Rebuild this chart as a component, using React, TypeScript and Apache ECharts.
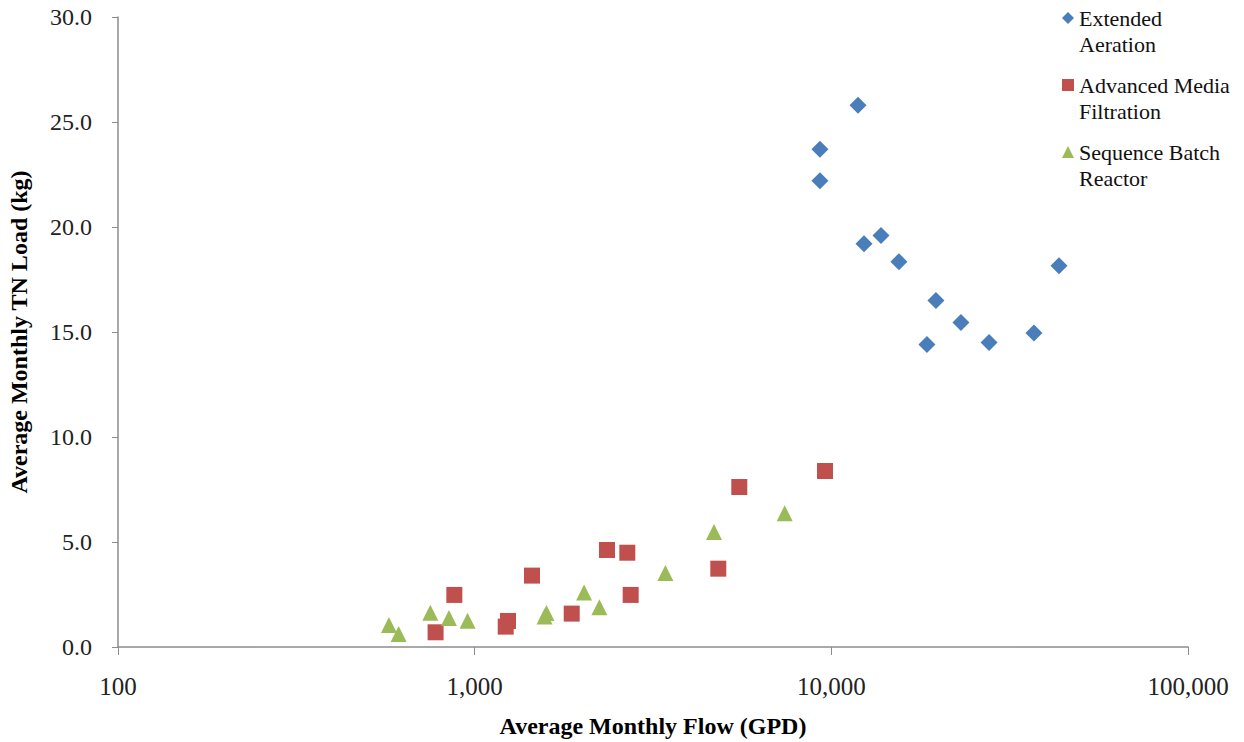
import React, { useEffect, useRef } from "react";
import * as echarts from "echarts";

const extendedAeration: [number, number][] = [
  [11880, 25.8], [9290, 23.7], [9290, 22.2], [12350, 19.2], [13780, 19.6],
  [15470, 18.35], [19650, 16.5], [23090, 15.45], [18540, 14.4], [27680, 14.5],
  [36990, 14.95], [43480, 18.15],
];
const advancedMediaFiltration: [number, number][] = [
  [777, 0.7], [877, 2.48], [1222, 0.97], [1240, 1.24], [1448, 3.4],
  [1871, 1.59], [2350, 4.62], [2679, 4.49], [2738, 2.48], [4820, 3.73],
  [5520, 7.62], [9600, 8.38],
];
const sequenceBatchReactor: [number, number][] = [
  [575, 1.05], [612, 0.62], [751, 1.63], [847, 1.38], [955, 1.25],
  [1570, 1.45], [1590, 1.62], [2026, 2.59], [2237, 1.89], [3425, 3.52],
  [4688, 5.48], [7400, 6.37],
];

const seriesNames = ["Extended Aeration", "Advanced Media Filtration", "Sequence Batch Reactor"];
const legendFirstLines = ["Extended", "Advanced Media", "Sequence Batch"];
const legendSecondLines = ["Aeration", "Filtration", "Reactor"];
const colors = ["#4A7EBB", "#C0504D", "#9BBB59"];

const FONT = '"Liberation Serif", "Times New Roman", serif';

export default function App() {
  const ref = useRef<HTMLDivElement>(null);
  useEffect(() => {
    if (!ref.current) return;
    const chart = echarts.init(ref.current, undefined, { renderer: "svg" });
    chart.setOption({
      animation: false,
      textStyle: { fontFamily: FONT },
      grid: { left: 118, right: 56, top: 17, bottom: 95, outerBoundsMode: "none", containLabel: false },
      legend: {
        orient: "vertical",
        left: 1062,
        top: 7,
        padding: 0,
        itemWidth: 12,
        itemHeight: 12,
        itemGap: 45,
        selectedMode: false,
        textStyle: { fontFamily: FONT, fontSize: 22, color: "#111", lineHeight: 22 },
        formatter: (name: string) => legendFirstLines[seriesNames.indexOf(name)],
        data: [
          { name: seriesNames[0], icon: "diamond" },
          { name: seriesNames[1], icon: "rect" },
          { name: seriesNames[2], icon: "triangle" },
        ],
      },
      graphic: legendSecondLines.map((t, i) => ({
        type: "text",
        left: 1079,
        top: 33 + i * 67,
        style: { text: t, font: `22px ${FONT}`, fill: "#111" },
      })),
      xAxis: {
        type: "log",
        logBase: 10,
        min: 100,
        max: 100000,
        name: "Average Monthly Flow (GPD)",
        nameLocation: "middle",
        nameGap: 67,
        nameTextStyle: { fontFamily: FONT, fontSize: 24, fontWeight: "bold", color: "#000" },
        axisLine: { lineStyle: { color: "#8c8c8c", width: 1.5 } },
        axisTick: { show: true, inside: false, length: 8, lineStyle: { color: "#8c8c8c" } },
        axisLabel: {
          fontFamily: FONT,
          fontSize: 25,
          color: "#222",
          margin: 27,
          formatter: (v: number) => Math.round(v).toLocaleString("en-US"),
        },
        splitLine: { show: false },
        minorTick: { show: false },
      },
      yAxis: {
        type: "value",
        min: 0,
        max: 30,
        interval: 5,
        name: "Average Monthly TN Load (kg)",
        nameLocation: "middle",
        nameGap: 87,
        nameTextStyle: { fontFamily: FONT, fontSize: 24, fontWeight: "bold", color: "#000" },
        axisLine: { show: true, lineStyle: { color: "#8c8c8c", width: 1.5 } },
        axisTick: { show: true, inside: false, length: 6, lineStyle: { color: "#8c8c8c" } },
        axisLabel: {
          fontFamily: FONT,
          fontSize: 24,
          color: "#222",
          margin: 26,
          formatter: (v: number) => v.toFixed(1),
        },
        splitLine: { show: false },
      },
      series: [
        {
          name: seriesNames[0],
          type: "scatter",
          symbol: "diamond",
          symbolSize: 17,
          itemStyle: { color: colors[0], opacity: 1 },
          data: extendedAeration,
        },
        {
          name: seriesNames[1],
          type: "scatter",
          symbol: "rect",
          symbolSize: 16,
          itemStyle: { color: colors[1], opacity: 1 },
          data: advancedMediaFiltration,
        },
        {
          name: seriesNames[2],
          type: "scatter",
          symbol: "triangle",
          symbolSize: 16,
          itemStyle: { color: colors[2], opacity: 1 },
          data: sequenceBatchReactor,
        },
      ],
    });
    return () => chart.dispose();
  }, []);
  return <div ref={ref} style={{ width: 1244, height: 742, position: "absolute", left: 0, top: 0 }} />;
}
